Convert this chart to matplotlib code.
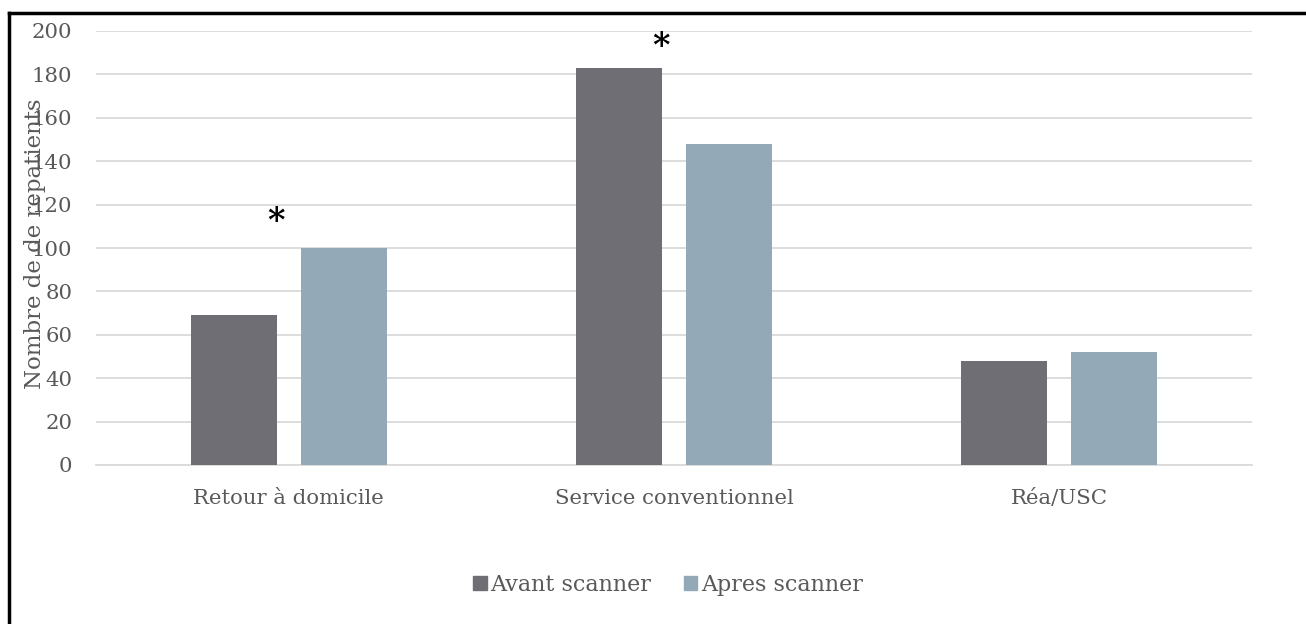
import matplotlib
matplotlib.use("Agg")
import matplotlib.pyplot as plt
from matplotlib.lines import Line2D
from matplotlib.patches import Patch
import numpy as np

categories = ["Retour à domicile", "Service conventionnel", "Réa/USC"]
series_names = ["Avant scanner", "Apres scanner"]
avant = [69, 183, 48]
apres = [100, 148, 52]
yticks = [0, 20, 40, 60, 80, 100, 120, 140, 160, 180, 200]
ylabel = "Nombre de de repatients"
stars = [(0, 115, "*"), (1, 196, "*")]

c_avant = "#6f6e74"
c_apres = "#94a9b8"
txt = "#595959"
plt.rcParams['font.family'] = ['DejaVu Serif']

fig = plt.figure(figsize=(13.06, 6.24), dpi=100)
ax = fig.add_axes([96/1306, 1-465/624, (1252-96)/1306, (465-31)/624])

x = np.arange(len(categories))
w = 0.223
off = 0.143
ax.bar(x - off, avant, w, color=c_avant, zorder=3, label=series_names[0])
ax.bar(x + off, apres, w, color=c_apres, zorder=3, label=series_names[1])

ax.set_xlim(-0.5, 2.5)
ax.set_ylim(0, 200)
ax.set_yticks(yticks)
ax.set_xticks(x)
ax.set_xticklabels(categories)
ax.grid(axis='y', color='#dadada', linewidth=1.3, zorder=0)
ax.set_axisbelow(True)
for s in ['top', 'right', 'left']:
    ax.spines[s].set_visible(False)
ax.spines['bottom'].set_color('#dadada')
ax.spines['bottom'].set_linewidth(1.3)
ax.tick_params(axis='both', length=0, labelsize=15.3, colors=txt)
ax.tick_params(axis='x', pad=17)
ax.tick_params(axis='y', pad=17)
ax.set_ylabel(ylabel, fontsize=16.5, color=txt)
ax.yaxis.set_label_coords(-50/1156, 0.51)

for sx, sy, s in stars:
    ax.text(sx - 0.033, sy - 3, s, ha='center', va='center', fontsize=24,
            fontweight='bold', color='black')

handles = [Patch(color=c_avant), Patch(color=c_apres)]
fig.legend(handles, series_names, loc='center', bbox_to_anchor=(668/1306, 1-585/624),
           ncol=2, frameon=False, fontsize=16, handlelength=0.62, handleheight=0.62,
           handletextpad=0.15, columnspacing=1.45, labelcolor=txt)

# frame (left and top visible)
fig.add_artist(Line2D([9/1306, 9/1306], [0, 1-13/624], color='black', lw=2.5, transform=fig.transFigure))
fig.add_artist(Line2D([9/1306, 1], [1-13/624, 1-13/624], color='black', lw=2.5, transform=fig.transFigure))

fig.savefig("out.png", dpi=100)
